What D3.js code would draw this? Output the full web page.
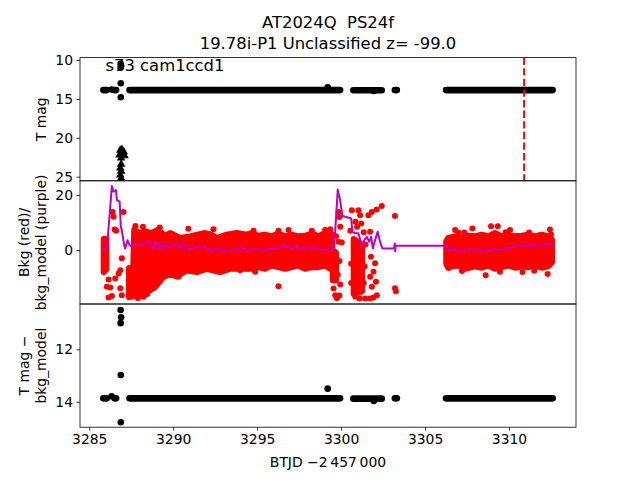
<!DOCTYPE html>
<html><head><meta charset="utf-8">
<script src="https://cdn.jsdelivr.net/npm/d3@7"></script>
<style>body{margin:0;background:#fff} svg{font-family:"DejaVu Sans",sans-serif} text{white-space:pre}</style>
</head><body><svg id="c" width="640" height="480"></svg>
<script>
// ---------- data ----------
const titleLines = ["AT2024Q  PS24f", "19.78i-P1 Unclassified z= -99.0"];
const xTicks = [3285, 3290, 3295, 3300, 3305, 3310];
const y1Ticks = [10, 15, 20, 25];
const y2Ticks = [0, 20];
const y3Ticks = [12, 14];
const markerTime = 3310.9;

// black light-curve runs (dense dots) : start, end, magnitude
const segStart = [3285.84, 3286.33, 3286.5, 3287.4, 3300.73, 3303.2, 3306.25];
const segEnd   = [3286.04, 3286.33, 3286.6, 3299.94, 3302.42, 3303.32, 3312.6];
const segMag   = [13.87, 13.79, 13.87, 13.87, 13.88, 13.87, 13.87];
// isolated black points
const outT   = [3286.87, 3286.9, 3286.87, 3286.88, 3286.88, 3299.2, 3301.95];
const outMag = [10.5, 10.78, 11.0, 12.98, 14.78, 13.5, 13.97];
// upper-limit triangles
const triT   = [3286.85, 3286.95, 3287.05, 3286.8, 3287.0, 3287.1, 3286.9, 3286.9, 3286.85, 3286.9, 3286.85, 3286.9];
const triMag = [21.6, 21.5, 21.8, 22.2, 22.0, 22.3, 22.6, 23.4, 23.9, 24.3, 24.8, 25.2];

// background flux: dense clouds, upper and lower edges of each
const topT = [[3285.86, 3286.02],
  [3287.37, 3287.62, 3287.68, 3288.02, 3288.32, 3288.72, 3289.11, 3289.51, 3289.81, 3290.4, 3291.0, 3291.89, 3292.29, 3292.59, 3293.18, 3293.78, 3294.37,
   3294.67, 3295.07, 3295.46, 3295.86, 3296.26, 3296.66, 3297.05, 3297.45, 3297.85, 3298.25, 3298.64, 3299.04, 3299.34, 3299.47],
  [3299.5, 3299.7],
  [3300.75, 3301.25],
  [3306.26, 3306.38, 3306.78, 3307.18, 3307.58, 3307.97, 3308.37, 3308.77, 3309.16, 3309.56, 3309.96, 3310.36, 3310.75, 3311.15, 3311.55, 3311.94, 3312.34, 3312.56]];
const topV = [[4, 4],
  [-6.5, -6.5, 7.4, 6.2, 6.8, 6.2, 7.4, 5.0, 6.2, 4.4, 5.0, 6.2, 5.6, 4.4, 5.6, 6.2, 5.6,
   6.2, 5.2, 5.6, 5.0, 6.0, 5.0, 5.6, 5.0, 5.2, 6.0, 5.0, 6.2, 6.4, 5.6],
  [0, -1],
  [4, 2],
  [3.2, 4.4, 5.0, 4.4, 5.2, 5.0, 5.6, 5.0, 6.2, 5.0, 5.6, 5.0, 5.2, 5.6, 5.0, 5.6, 5.0, 3.8]];
const botT = [[3285.86, 3286.02],
  [3287.37, 3287.92, 3288.42, 3288.91, 3289.41, 3289.81, 3290.2, 3290.8, 3291.4, 3291.99, 3292.78, 3293.38, 3293.98,
   3294.67, 3295.07, 3295.46, 3295.86, 3296.26, 3296.66, 3297.05, 3297.45, 3297.85, 3298.25, 3298.64, 3299.04, 3299.34, 3299.47],
  [3299.5, 3299.7],
  [3300.75, 3301.25],
  [3306.26, 3306.38, 3306.98, 3307.38, 3307.97, 3308.37, 3308.77, 3309.16, 3309.56, 3309.96, 3310.36, 3310.75, 3311.15, 3311.55, 3311.94, 3312.34, 3312.56]];
const botV = [[-8, -7],
  [-17.1, -16.5, -15.3, -13.5, -9.8, -8.6, -9.6, -7.4, -8, -6.8, -8, -6.8, -6.8,
   -6.8, -6.2, -6.8, -5.6, -6.2, -6.8, -6.2, -5.6, -6.8, -6.2, -6.2, -5.6, -6.8, -6.2],
  [-11, -11],
  [-16, -15],
  [-5.0, -6.2, -5.6, -6.8, -5.9, -6.4, -5.6, -6.8, -6.2, -5.6, -6.4, -5.9, -6.2, -5.6, -6.4, -5.9, -4.4]];
// background flux: scattered points
const redT = [3286.39, 3286.45, 3287.04, 3286.51, 3286.6, 3286.94, 3286.85, 3286.75, 3286.55, 3286.15, 3286.05, 3286.25, 3286.85, 3286.94, 3286.15, 3286.35,
  3288.04, 3288.24, 3288.63, 3288.73, 3290.32, 3293.99, 3287.9, 3288.45,
  3287.75, 3288.2, 3289.2, 3290.9, 3292.4, 3294.79, 3296.27, 3296.87, 3298.26, 3299.05, 3299.35, 3296.27, 3294.88,
  3299.55, 3299.6, 3299.55, 3299.65, 3299.75, 3299.9, 3299.95, 3299.8, 3299.9, 3299.85, 3300.04, 3299.95, 3299.9, 3299.85, 3299.7,
  3300.64, 3301.03, 3301.13, 3300.85, 3300.95, 3301.2, 3300.55, 3300.6, 3300.6, 3300.85, 3301.1, 3301.43, 3301.73, 3301.93, 3302.13, 3301.35, 3301.4, 3301.45, 3301.35,
  3301.63, 3301.83, 3302.12, 3302.42, 3301.73, 3301.78, 3302.02, 3301.93, 3301.73, 3301.83, 3302.08,
  3303.21, 3303.21, 3303.26,
  3306.79, 3307.34, 3307.82, 3308.93, 3309.33, 3310.06, 3312.44, 3312.5, 3308.61, 3309.46, 3312.3, 3306.4, 3307.2, 3310.8, 3311.5, 3307.0, 3309.8, 3311.2];
const redV = [13.9, 12.1, 13.9, 7.5, 7.0, -3.0, -7.3, -8.5, -10.3, -10.7, -13.3, -13.6, -13.9, -16.4, -17.2, -16.7,
  -16.4, -17, -14.5, -13.3, -9.7, -7.3, -17.5, -16,
  8.8, 8.5, 8.2, 7.8, 7.6, 7.0, 7.0, 7.3, 7.0, 7.3, 7.6, -13.1, -7.9,
  -8, -11, -14, -16.4, -17.5, -16.5, -12.5, -9, -4, 3, 2.8, 8.5, 12, 13.9, 5,
  14.5, 14.5, 12.7, 10.3, 8.5, 9.7, 7, -5, -12, -17, -17.6, -17.6, -17.6, -17.2, -16.4, -12, -6, 2, 6.5,
  12.7, 13.9, 14.8, 16, 6.7, -2.4, -4.8, -7.9, -9.7, -13.3, -11.5,
  12.4, -13.9, -15,
  7.3, 6.4, 7.9, 8.7, 8.7, 7.3, 7.5, 5.7, -9.1, -7.9, -8.7, -6.5, -7.6, -8, -7.5, 6.3, 6.5, 6.4];
// background model
const bkgT = [3285.76, 3286.05, 3286.35, 3286.45, 3286.59, 3286.65, 3286.81, 3286.88, 3286.94, 3287.08, 3287.14, 3287.28, 3287.4, 3287.54, 3287.74,
  3288.13, 3288.53, 3288.73, 3288.99, 3289.19, 3289.38, 3289.62, 3289.92, 3290.22, 3290.42, 3290.65, 3290.91, 3291.31, 3291.7, 3292.0, 3292.3, 3292.7, 3293.0,
  3293.29, 3293.69, 3294.09, 3294.39, 3294.88, 3295.48, 3296.07, 3296.63, 3296.96, 3297.26, 3297.66, 3298.05, 3298.45, 3298.85, 3299.44,
  3299.64, 3299.8, 3299.94, 3300.08, 3300.24, 3300.6, 3300.67, 3300.83, 3301.03, 3301.23, 3301.39, 3301.53, 3301.67, 3301.79, 3301.89, 3302.02,
  3302.18, 3302.32, 3302.46, 3303.15, 3303.2, 3303.22, 3303.25, 3306.1, 3306.29, 3306.49, 3306.68, 3306.89, 3307.18, 3307.58, 3308.08, 3308.47,
  3308.97, 3309.36, 3309.76, 3310.16, 3310.65, 3311.15, 3311.65, 3312.14, 3312.44, 3312.64];
const bkgV = [0.36, 0.25, 23.3, 21.2, 21.8, 18.2, 17.6, 8.5, 7.3, 1.8, 0.6, 3.6, 1.8, 1.2, 2.4,
  1.8, 3.4, 0.6, 3.0, 0.25, 2.4, 0.6, 1.8, 2.2, 0.6, 2.4, 0, 1.2, 1.5, 0.6, -0.6, 0.6, -0.4,
  0, 0.3, 1.0, 0, 0.25, 0.25, 0.6, 1.8, 0.6, 1.2, 0.6, 1.0, 0.6, 0.25, 0,
  6, 22, 18.2, 12.4, 12.1, 11.5, 6.7, 6.1, 6.1, 1.8, 3.6, 4.8, 3.0, 4.8, 0.6, 3.6,
  6.7, 3.0, 0.6, 0.6, 2.4, -0.4, 1.6, 1.57, 1.2, -0.6, 0.6, 0, -0.6, 0.25, 0.25, -0.4,
  0.36, 0, 0.6, 1.0, 1.8, 1.5, 1.8, 2.2, 2.2, 1.5];

// ---------- layout ----------
const svg = d3.select("#c");
const L = 80, R = 576;
const P = [{top: 57.6, bot: 180.8}, {top: 180.8, bot: 304}, {top: 304, bot: 427.2}];
const x = d3.scaleLinear().domain([3284.45, 3313.99]).range([L, R]);
const y1 = d3.scaleLinear().domain([9.69, 25.53]).range([P[0].top, P[0].bot]);
const y2 = d3.scaleLinear().domain([-19.6, 25.2]).range([P[1].bot, P[1].top]);
const y3 = d3.scaleLinear().domain([10.27, 14.97]).range([P[2].top, P[2].bot]);

const defs = svg.append("defs");
P.forEach((p, i) => {
  defs.append("clipPath").attr("id", "clip" + i).append("rect")
    .attr("x", L).attr("y", p.top).attr("width", R - L).attr("height", p.bot - p.top);
});
const g = P.map((p, i) => svg.append("g").attr("clip-path", `url(#clip${i})`));

function blackPanel(gg, y) {
  gg.selectAll("line.seg").data(segStart).join("line").attr("class", "seg")
    .attr("x1", (d) => x(d)).attr("x2", (d, i) => x(segEnd[i]))
    .attr("y1", (d, i) => y(segMag[i])).attr("y2", (d, i) => y(segMag[i]))
    .attr("stroke", "#000").attr("stroke-width", 6.6).attr("stroke-linecap", "round");
  gg.selectAll("circle.out").data(outT).join("circle").attr("class", "out")
    .attr("cx", (d) => x(d)).attr("cy", (d, i) => y(outMag[i])).attr("r", 3.3).attr("fill", "#000");
}
blackPanel(g[0], y1);
blackPanel(g[2], y3);

// triangles
const tri = d3.symbol().type(d3.symbolTriangle).size(32);
g[0].selectAll("path.tri").data(triT).join("path").attr("class", "tri")
  .attr("transform", (d, i) => `translate(${x(d)},${y1(triMag[i])})`)
  .attr("d", tri).attr("fill", "#000");

// dashed marker
g[0].append("line").attr("x1", x(markerTime)).attr("x2", x(markerTime))
  .attr("y1", P[0].top).attr("y2", P[0].bot)
  .attr("stroke", "#ff0000").attr("stroke-width", 2).attr("stroke-dasharray", "7.4,3.2");

// red clouds
topT.forEach((ts, k) => {
  const up = ts.map((t, i) => [x(t), y2(topV[k][i])]);
  const dn = botT[k].map((t, i) => [x(t), y2(botV[k][i])]).reverse();
  g[1].append("path").attr("d", "M" + up.concat(dn).map((p) => p.join(",")).join("L") + "Z")
    .attr("fill", "#ff0000").attr("stroke", "#ff0000").attr("stroke-width", 6).attr("stroke-linejoin", "round");
});
g[1].selectAll("circle.red").data(redT).join("circle").attr("class", "red")
  .attr("cx", (d) => x(d)).attr("cy", (d, i) => y2(redV[i])).attr("r", 3).attr("fill", "#ff0000");
// model line
g[1].append("path").datum(bkgT.map((t, i) => [t, bkgV[i]]))
  .attr("d", d3.line().x((d) => x(d[0])).y((d) => y2(d[1])))
  .attr("fill", "none").attr("stroke", "#bf00bf").attr("stroke-width", 2).attr("stroke-linejoin", "round");

// annotation
svg.append("text").attr("x", 105.5).attr("y", 70.7).attr("font-size", "16.4px").attr("fill", "#000").text("s73 cam1ccd1");

// frames + axes
P.forEach((p) => {
  svg.append("rect").attr("x", L).attr("y", p.top).attr("width", R - L).attr("height", p.bot - p.top)
    .attr("fill", "none").attr("stroke", "#000").attr("stroke-width", 0.8);
});
function styleAxis(a) {
  a.select(".domain").remove();
  a.selectAll(".tick line").attr("stroke", "#000").attr("stroke-width", 0.8);
  a.selectAll(".tick text").attr("fill", "#000").attr("font-size", "13.9px").attr("font-family", "DejaVu Sans");
}
[[y1, y1Ticks], [y2, y2Ticks], [y3, y3Ticks]].forEach(([s, t]) => {
  const a = svg.append("g").attr("transform", `translate(${L},0)`)
    .call(d3.axisLeft(s).tickValues(t).tickSize(3.5).tickPadding(3.5).tickFormat(d3.format("d")));
  styleAxis(a);
});
const ax = svg.append("g").attr("transform", `translate(0,${P[2].bot})`)
  .call(d3.axisBottom(x).tickValues(xTicks).tickSize(3.5).tickPadding(3.5).tickFormat(d3.format("d")));
styleAxis(ax);

// labels
svg.append("text").attr("x", 328).attr("y", 467).attr("text-anchor", "middle").attr("font-size", "13.9px")
  .text("BTJD \u22122\u2009457\u2009000");
function ylab(lines, cy) {
  lines.forEach((s, i) => {
    const bx = 46.4 - (lines.length - 1 - i) * 17;
    svg.append("text").attr("transform", `translate(${bx},${cy}) rotate(-90)`)
      .attr("text-anchor", "middle").attr("font-size", "13.9px").text(s);
  });
}
ylab(["T mag"], (P[0].top + P[0].bot) / 2);
ylab(["Bkg (red)/", "bkg_model (purple)"], (P[1].top + P[1].bot) / 2);
ylab(["T mag \u2212", "bkg_model"], (P[2].top + P[2].bot) / 2);

svg.append("text").attr("x", 328).attr("y", 28.3).attr("text-anchor", "middle").attr("font-size", "16.4px").text(titleLines[0]);
svg.append("text").attr("x", 328).attr("y", 49.4).attr("text-anchor", "middle").attr("font-size", "16.4px").text(titleLines[1]);
</script></body></html>
